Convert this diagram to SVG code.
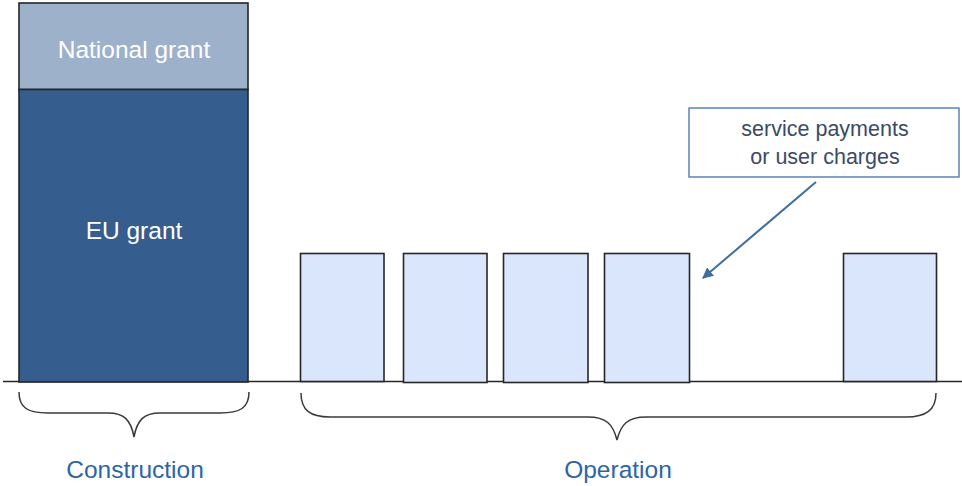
<svg xmlns="http://www.w3.org/2000/svg" width="962" height="486" viewBox="0 0 962 486">
<defs>
<style>
.bar{stroke:#262626;stroke-width:1.6}
.pay{fill:#DAE6FB;stroke:#262626;stroke-width:1.6}
.brace{fill:none;stroke:#3a3a3a;stroke-width:1.5}
.white{font-family:"Liberation Sans",Arial,sans-serif;fill:#ffffff;text-anchor:middle;font-size:24.5px}
.lbl{font-family:"Liberation Sans",Arial,sans-serif;fill:#2E64A6;text-anchor:middle;font-size:24.5px}
.call{font-family:"Liberation Sans",Arial,sans-serif;fill:#3B4A66;text-anchor:middle;font-size:21.5px}
</style>
<marker id="ah" viewBox="0 0 10 10" refX="9" refY="5" markerWidth="5.5" markerHeight="5.5" orient="auto" markerUnits="strokeWidth">
<path d="M0,0 L10,5 L0,10 z" fill="#3F6E9E"/>
</marker>
</defs>
<rect width="962" height="486" fill="#ffffff"/>

<g id="baseline">
<line x1="3" y1="381.5" x2="962" y2="381.5" stroke="#262626" stroke-width="1.5"/>
</g>

<g id="national-grant">
<rect class="bar" x="19" y="3" width="229" height="86.5" fill="#9DB1CB"/>
<text class="white" x="134" y="58">National grant</text>
</g>
<g id="eu-grant">
<rect class="bar" x="19" y="89.5" width="229" height="292.5" fill="#355E8F"/>
<text class="white" x="134" y="239">EU grant</text>
</g>

<g id="payment-1"><rect class="pay" x="300.5" y="253.5" width="83.5" height="128"/></g>
<g id="payment-2"><rect class="pay" x="403.5" y="253.5" width="83.5" height="129"/></g>
<g id="payment-3"><rect class="pay" x="503.5" y="253.5" width="84.5" height="129"/></g>
<g id="payment-4"><rect class="pay" x="604.5" y="253.5" width="85" height="129"/></g>
<g id="payment-5"><rect class="pay" x="843.5" y="253.5" width="93" height="128"/></g>

<g id="callout">
<rect x="689" y="108" width="270" height="69" fill="#ffffff" stroke="#5B84B8" stroke-width="1.5"/>
<text class="call" x="825" y="136">service payments</text>
<text class="call" x="825" y="164">or user charges</text>
</g>

<g id="construction">
<path class="brace" d="M19,392 C19,408 28,413 48,413 L108,413 C124,413 131,420 134,437 C137,420 144,413 160,413 L220,413 C240,413 249,408 249,392"/>
<text class="lbl" x="135" y="478">Construction</text>
</g>

<g id="operation">
<path class="brace" d="M301,393 C301,410 310,417 330,417 L588,417 C606,417 613,424 617,440 C621,424 628,417 646,417 L906,417 C926,417 936,410 936,393"/>
<text class="lbl" x="618" y="478">Operation</text>
</g>

<g id="connectors">
<line x1="816" y1="182" x2="703" y2="278" stroke="#3F6E9E" stroke-width="2" marker-end="url(#ah)"/>
</g>
</svg>
